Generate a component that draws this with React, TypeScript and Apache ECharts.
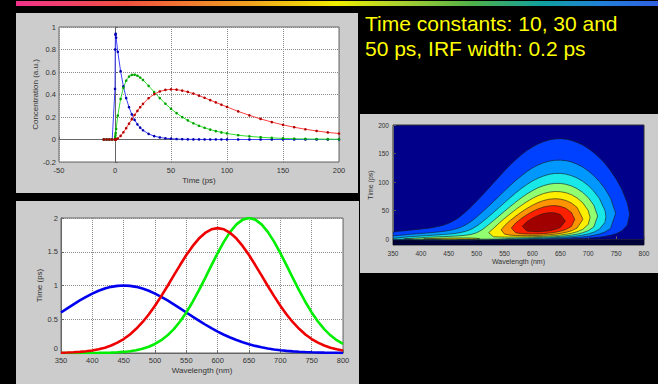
import React, { useEffect, useRef } from "react";
import * as echarts from "echarts";

// ---- Concentration profiles (top-left plot) ----
const times = [-10, -7.5, -5, -2.5, 0, 0.2, 0.4, 0.6, 1, 2.5, 5, 7.5, 10, 12.5, 15, 17.5, 20, 22.5, 25,
  30, 35, 40, 45, 50, 55, 60, 65, 70, 75, 80, 85, 90, 95, 100,
  110, 120, 130, 140, 150, 160, 170, 180, 190, 200];
const concBlue = [0, 0, 0, 0, 0.45, 0.8, 0.93, 0.94, 0.905, 0.779, 0.607, 0.472, 0.368, 0.287, 0.223, 0.174, 0.135, 0.105, 0.082,
  0.05, 0.03, 0.018, 0.011, 0.0067, 0.004, 0.0025, 0.0015, 0.0009, 0.0006, 0.0003, 0.0002, 0.0001, 0.0001, 0,
  0, 0, 0, 0, 0, 0, 0, 0, 0, 0];
const concGreen = [0, 0, 0, 0, 0, 0.02, 0.039, 0.058, 0.094, 0.212, 0.36, 0.46, 0.523, 0.559, 0.575, 0.576, 0.567, 0.551, 0.529,
  0.477, 0.422, 0.368, 0.318, 0.273, 0.234, 0.199, 0.17, 0.144, 0.122, 0.104, 0.088, 0.075, 0.063, 0.054,
  0.038, 0.028, 0.02, 0.014, 0.01, 0.007, 0.005, 0.004, 0.003, 0.002];
const concRed = [0, 0, 0, 0, 0, 0.0001, 0.0005, 0.0011, 0.0016, 0.009, 0.032, 0.064, 0.101, 0.141, 0.18, 0.218, 0.254, 0.287, 0.317,
  0.367, 0.403, 0.427, 0.441, 0.446, 0.443, 0.435, 0.423, 0.408, 0.39, 0.371, 0.35, 0.33, 0.309, 0.289,
  0.25, 0.215, 0.183, 0.155, 0.13, 0.109, 0.091, 0.076, 0.063, 0.053];

// ---- Spectra (bottom-left plot) ----
const wavelengths = [350, 360, 370, 380, 390, 400, 410, 420, 430, 440, 450, 460, 470, 480, 490, 500, 510, 520, 530, 540,
  550, 560, 570, 580, 590, 600, 610, 620, 630, 640, 650, 660, 670, 680, 690, 700, 710, 720, 730, 740,
  750, 760, 770, 780, 790, 800];
const specBlue = [0.6, 0.6615, 0.7214, 0.7788, 0.8322, 0.8803, 0.9216, 0.9551, 0.9798, 0.9949, 1.0,
  0.9949, 0.9798, 0.9551, 0.9216, 0.8803, 0.8322, 0.7788, 0.7214, 0.6615, 0.6,
  0.5394, 0.4797, 0.4222, 0.3679, 0.3173, 0.2709, 0.2289, 0.1915, 0.1586, 0.1299,
  0.1054, 0.0847, 0.0673, 0.053, 0.0412, 0.0318, 0.0243, 0.0183, 0.0137, 0.0101,
  0.0074, 0.0054, 0.0039, 0.0027, 0.0019];
const specRed = [0.004, 0.007, 0.011, 0.017, 0.025, 0.038, 0.055, 0.079, 0.111, 0.153, 0.207, 0.275, 0.358, 0.456, 0.57,
  0.699, 0.842, 0.993, 1.149, 1.303, 1.451, 1.583, 1.695, 1.779, 1.832, 1.85,
  1.832, 1.779, 1.695, 1.583, 1.451, 1.303, 1.149, 0.993, 0.842, 0.699, 0.57, 0.456, 0.358, 0.275,
  0.207, 0.153, 0.111, 0.079, 0.055, 0.038];
const specGreen = [0, 0.0001, 0.0002, 0.0003, 0.0006, 0.0011, 0.002, 0.0035, 0.006, 0.01, 0.016, 0.026, 0.041, 0.062, 0.092,
  0.134, 0.19, 0.262, 0.354, 0.467, 0.601, 0.756, 0.927, 1.11, 1.298, 1.481, 1.65, 1.795, 1.906, 1.976, 2.0,
  1.976, 1.906, 1.795, 1.65, 1.481, 1.298, 1.11, 0.927, 0.756, 0.601, 0.467, 0.354, 0.262, 0.19, 0.134];

// ---- Contour plot (right) ----
const contourLevels = [0.17, 0.34, 0.51, 0.68, 0.85, 1.02, 1.19, 1.36];
const contourColors = ["#0040ff", "#0098ff", "#18e8e8", "#90ff70", "#ffee00", "#ff9400", "#ff2000", "#a00000"];
const contourTicks = [0, 50, 100, 150, 200];

type Poly = { level: number; pts: number[][] };

function buildContours(): Poly[] {
  const nT = times.length;
  // data matrix built from the concentration profiles and the spectra above
  const grid = wavelengths.map((_, j) =>
    times.map((_, i) => concBlue[i] * specBlue[j] + concGreen[i] * specRed[j] + concRed[i] * specGreen[j])
  );
  const maxes = grid.map((col) => Math.max(...col));
  const polys: Poly[] = [];
  contourLevels.forEach((L, li) => {
    const cols = grid.map((v) => {
      let i0 = -1;
      let i1 = -1;
      for (let i = 0; i < nT; i++) {
        if (v[i] >= L) {
          if (i0 < 0) i0 = i;
          i1 = i;
        }
      }
      if (i0 < 0) return null;
      const lo = i0 > 0 ? times[i0 - 1] + ((L - v[i0 - 1]) / (v[i0] - v[i0 - 1])) * (times[i0] - times[i0 - 1]) : times[0];
      const hi = i1 < nT - 1 ? times[i1] + ((v[i1] - L) / (v[i1] - v[i1 + 1])) * (times[i1 + 1] - times[i1]) : times[nT - 1];
      return { lo, hi };
    });
    let j = 0;
    while (j < cols.length) {
      if (!cols[j]) {
        j++;
        continue;
      }
      const a = j;
      while (j < cols.length && cols[j]) j++;
      const b = j - 1;
      const upper: number[][] = [];
      const lower: number[][] = [];
      if (a > 0) {
        const f = (maxes[a] - L) / (maxes[a] - maxes[a - 1]);
        upper.push([wavelengths[a] - f * (wavelengths[a] - wavelengths[a - 1]), (cols[a]!.lo + cols[a]!.hi) / 2]);
      }
      for (let k = a; k <= b; k++) upper.push([wavelengths[k], cols[k]!.hi]);
      if (b < cols.length - 1) {
        const f = (maxes[b] - L) / (maxes[b] - maxes[b + 1]);
        upper.push([wavelengths[b] + f * (wavelengths[b + 1] - wavelengths[b]), (cols[b]!.lo + cols[b]!.hi) / 2]);
      }
      for (let k = b; k >= a; k--) lower.push([wavelengths[k], cols[k]!.lo]);
      polys.push({ level: li, pts: upper.concat(lower) });
    }
  });
  return polys;
}

const FONT = '"Liberation Sans", Arial, sans-serif';
const TXT = "#333333";
const AX = "#666666";

function axisCommon(fontSize: number, margin: number) {
  return {
    axisLine: { show: true, lineStyle: { color: AX, width: 1 } },
    axisTick: { show: true, inside: true, length: 3, lineStyle: { color: AX } },
    axisLabel: { fontSize, color: TXT, fontFamily: FONT, margin },
    nameTextStyle: { fontSize: fontSize + 0.5, color: TXT, fontFamily: FONT },
    nameLocation: "middle" as const,
  };
}

export default function App() {
  const ref = useRef<HTMLDivElement>(null);
  useEffect(() => {
    if (!ref.current) return;
    const chart = echarts.init(ref.current, null, { renderer: "svg" });
    const polys = buildContours();
    const dotted = { show: true, lineStyle: { type: "dotted" as const, color: "#8a8a8a", width: 1 } };

    chart.setOption({
      animation: false,
      backgroundColor: "#000000",
      graphic: [
        {
          type: "rect",
          z: -10,
          shape: { x: 16, y: 1, width: 642, height: 5 },
          style: {
            fill: {
              type: "linear", x: 0, y: 0, x2: 1, y2: 0,
              colorStops: [
                { offset: 0, color: "#f0328c" },
                { offset: 0.17, color: "#f05040" },
                { offset: 0.36, color: "#f0a020" },
                { offset: 0.5, color: "#f0ee00" },
                { offset: 0.6, color: "#a8d030" },
                { offset: 0.71, color: "#50b048" },
                { offset: 0.82, color: "#10a0a0" },
                { offset: 0.91, color: "#2080d8" },
                { offset: 1, color: "#3060e0" },
              ],
            },
          },
        },
        { type: "rect", z: -10, shape: { x: 16, y: 13, width: 342, height: 180 }, style: { fill: "#cccccc" } },
        { type: "rect", z: -10, shape: { x: 16, y: 201, width: 343, height: 183 }, style: { fill: "#cccccc" } },
        { type: "rect", z: -10, shape: { x: 360, y: 114, width: 298, height: 159 }, style: { fill: "#cccccc" } },
        {
          type: "text", z: 10, x: 365, y: 23,
          style: { text: "Time constants: 10, 30 and", fill: "#ffff00", fontSize: 21, fontFamily: FONT, verticalAlign: "middle" },
        },
        {
          type: "text", z: 10, x: 365, y: 48,
          style: { text: "50 ps, IRF width: 0.2 ps", fill: "#ffff00", fontSize: 21, fontFamily: FONT, verticalAlign: "middle" },
        },
      ],
      grid: [
        { left: 59, top: 27, right: 319, bottom: 222, show: true, backgroundColor: "#ffffff", borderColor: AX, borderWidth: 1 },
        { left: 61, top: 218, right: 315, bottom: 31, show: true, backgroundColor: "#ffffff", borderColor: AX, borderWidth: 1 },
        { left: 393, top: 125, right: 14, bottom: 139, show: true, backgroundColor: "#00008b", borderColor: "#333", borderWidth: 1 },
      ],
      xAxis: [
        { ...axisCommon(7.5, 4), type: "value", gridIndex: 0, min: -50, max: 200, interval: 50, name: "Time (ps)", nameGap: 14, splitLine: dotted },
        { ...axisCommon(7.5, 3), type: "value", gridIndex: 1, min: 350, max: 800, interval: 50, name: "Wavelength (nm)", nameGap: 13, splitLine: dotted },
        { ...axisCommon(6.5, 5), type: "value", gridIndex: 2, min: 350, max: 800, interval: 50, name: "Wavelength (nm)", nameGap: 12, splitLine: { show: false } },
      ],
      yAxis: [
        { ...axisCommon(7.5, 3), type: "value", gridIndex: 0, min: -0.2, max: 1, interval: 0.2, name: "Concentration (a.u.)", nameGap: 20, splitLine: dotted },
        {
          ...axisCommon(7.5, 3), type: "value", gridIndex: 1, min: 0, max: 2, interval: 0.5, name: "Time (ps)", nameGap: 18, splitLine: dotted,
          axisLabel: {
            fontSize: 7.5, color: TXT, fontFamily: FONT, margin: 3,
            formatter: (v: number) => (v === 0 ? "{lo|0}" : String(v)),
            rich: { lo: { fontSize: 7.5, color: TXT, fontFamily: FONT, padding: [0, 0, 9, 0] } },
          },
        },
        {
          ...axisCommon(6.5, 4), type: "value", gridIndex: 2, min: -10, max: 200, name: "Time (ps)", nameGap: 17,
          axisLabel: { fontSize: 6.5, color: TXT, fontFamily: FONT, margin: 4, customValues: contourTicks },
          axisTick: { show: true, inside: true, length: 3, lineStyle: { color: "#555" }, customValues: contourTicks },
          splitLine: { show: false },
        },
      ],
      series: [
        {
          type: "line", xAxisIndex: 0, yAxisIndex: 0, data: times.map((t, i) => [t, concBlue[i]]),
          symbol: "circle", symbolSize: 2.6, lineStyle: { color: "#4040ff", width: 1 }, itemStyle: { color: "#0000b0" },
        },
        {
          type: "line", xAxisIndex: 0, yAxisIndex: 0, data: times.map((t, i) => [t, concGreen[i]]),
          symbol: "circle", symbolSize: 2.6, lineStyle: { color: "#30e030", width: 1 }, itemStyle: { color: "#00a000" },
        },
        {
          type: "line", xAxisIndex: 0, yAxisIndex: 0, data: times.map((t, i) => [t, concRed[i]]),
          symbol: "circle", symbolSize: 2.6, lineStyle: { color: "#ff4040", width: 1 }, itemStyle: { color: "#b00000" },
        },
        {
          type: "line", xAxisIndex: 1, yAxisIndex: 1, data: wavelengths.map((w, j) => [w, specBlue[j]]),
          showSymbol: false, lineStyle: { color: "#0000ee", width: 2.6 },
        },
        {
          type: "line", xAxisIndex: 1, yAxisIndex: 1, data: wavelengths.map((w, j) => [w, specGreen[j]]),
          showSymbol: false, lineStyle: { color: "#00ee00", width: 2.6 },
        },
        {
          type: "line", xAxisIndex: 1, yAxisIndex: 1, data: wavelengths.map((w, j) => [w, specRed[j]]),
          showSymbol: false, lineStyle: { color: "#ee0000", width: 2.6 },
        },
        {
          type: "custom", xAxisIndex: 2, yAxisIndex: 2, clip: true,
          data: polys.map((p, i) => [p.pts[0][0], p.pts[0][1], i]),
          renderItem: (params: any, api: any) => {
            const p = polys[params.dataIndex];
            return {
              type: "polygon",
              shape: { points: p.pts.map((pt) => api.coord(pt)) },
              style: { fill: contourColors[p.level], stroke: "#1a1a1a", lineWidth: 0.6 },
            };
          },
          markArea: {
            silent: true,
            itemStyle: { color: "#000038" },
            data: [[{ yAxis: -10 }, { yAxis: 0 }]],
          },
        },
      ],
    });
    return () => chart.dispose();
  }, []);
  return (
    <div
      ref={ref}
      style={{ position: "fixed", left: 0, top: 0, width: 658, height: 384, background: "#000" }}
    />
  );
}
